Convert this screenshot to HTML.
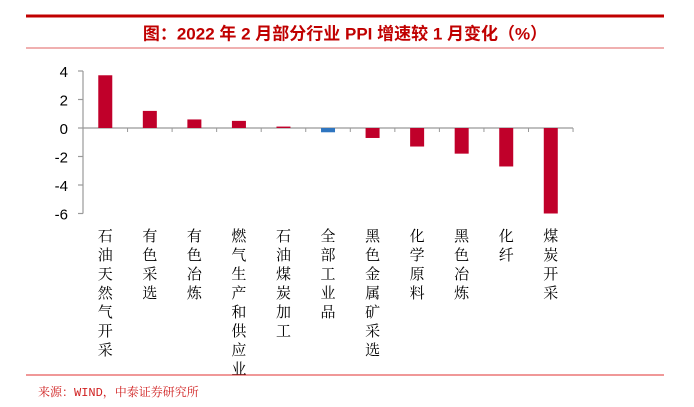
<!DOCTYPE html>
<html><head><meta charset="utf-8"><style>
html,body{margin:0;padding:0;background:#fff;width:694px;height:407px;overflow:hidden}
</style></head><body>
<svg width="694" height="407" viewBox="0 0 694 407" xmlns="http://www.w3.org/2000/svg">
<rect x="26" y="14.5" width="638" height="3" fill="#c00000"/>
<text x="345" y="39.5" text-anchor="middle" font-family="Liberation Sans, Noto Sans CJK SC, sans-serif" font-size="17" font-weight="bold" fill="#c00000">图：2022 年 2 月部分行业 PPI 增速较 1 月变化（%）</text>
<rect x="26" y="47.5" width="638" height="1" fill="#e06060"/>
<g font-family="Liberation Sans, sans-serif" font-size="15" fill="#000" text-anchor="end">
<text x="68" y="77">4</text><text x="68" y="105.5">2</text><text x="68" y="134">0</text>
<text x="68" y="162.5">-2</text><text x="68" y="191">-4</text><text x="68" y="219.5">-6</text>
</g>
<g stroke="#999" stroke-width="1.2" fill="none">
<line x1="83" y1="71" x2="83" y2="213.5"/>
<line x1="78" y1="71" x2="83" y2="71"/><line x1="78" y1="99.5" x2="83" y2="99.5"/>
<line x1="78" y1="128" x2="83" y2="128"/><line x1="78" y1="156.5" x2="83" y2="156.5"/>
<line x1="78" y1="185" x2="83" y2="185"/><line x1="78" y1="213.5" x2="83" y2="213.5"/>
<line x1="83" y1="128" x2="573" y2="128"/>
</g>
<g id="bars"></g>
<g id="labels" font-family="Liberation Serif, Noto Serif CJK SC, serif" font-size="15" fill="#000" text-anchor="middle"></g>
<rect x="26" y="374.5" width="638" height="1" fill="#e03030"/>
<text x="38" y="396" font-family="Liberation Mono, Noto Serif CJK SC, serif" font-size="12" fill="#d02020">来源：WIND，中泰证券研究所</text>
</svg>
<script>
var vals=[3.7,1.2,0.6,0.5,0.1,-0.3,-0.7,-1.3,-1.8,-2.7,-6.0];
var labs=["石油天然气开采","有色采选","有色冶炼","燃气生产和供应业","石油煤炭加工","全部工业品","黑色金属矿采选","化学原料","黑色冶炼","化纤","煤炭开采"];
var ns="http://www.w3.org/2000/svg",b=document.getElementById("bars"),l=document.getElementById("labels");
for(var i=0;i<11;i++){
 var cx=83+44.55*(i+0.5),v=vals[i],h=Math.abs(v)*14.25;
 var r=document.createElementNS(ns,"rect");
 r.setAttribute("x",cx-7);r.setAttribute("width",14);
 r.setAttribute("y",v>=0?128-h:128);r.setAttribute("height",h);
 r.setAttribute("fill",i==5?"#2e75c0":"#c0002a");b.appendChild(r);
 var t=document.createElementNS(ns,"line");var tx=83+44.55*(i+1);
 t.setAttribute("x1",tx);t.setAttribute("x2",tx);t.setAttribute("y1",128);t.setAttribute("y2",132);
 t.setAttribute("stroke","#999");b.appendChild(t);
 for(var j=0;j<labs[i].length;j++){
  var tt=document.createElementNS(ns,"text");tt.setAttribute("x",cx);tt.setAttribute("y",241+j*19);
  tt.textContent=labs[i][j];l.appendChild(tt);}
}
</script>
</body></html>
